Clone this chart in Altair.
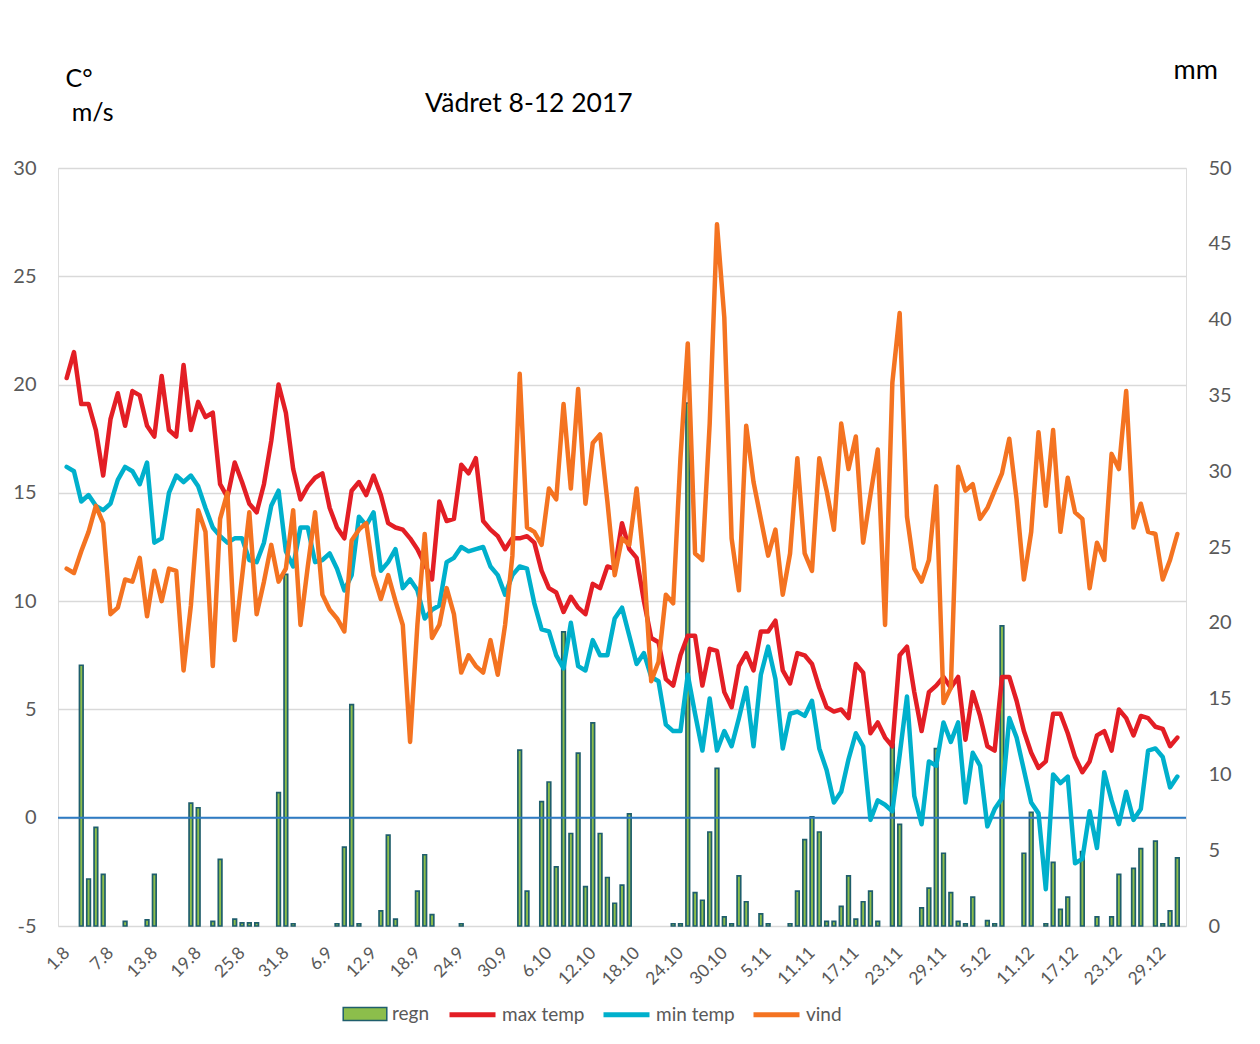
import altair as alt
import pandas as pd

# ---------------- data ----------------
dates = pd.date_range("2017-08-01", "2017-12-31", freq="D")
day_labels = [f"{d.day}.{d.month}" for d in dates]

tick_days = list(range(0, 153, 6))
tick_labels = ["1.8", "7.8", "13.8", "19.8", "25.8", "31.8", "6.9", "12.9", "18.9",
               "24.9", "30.9", "6.10", "12.10", "18.10", "24.10", "30.10", "5.11",
               "11.11", "17.11", "23.11", "29.11", "5.12", "11.12", "17.12", "23.12", "29.12"]

line_names = ["max temp", "min temp", "vind"]
line_colors = ["#E31E25", "#00B0CC", "#F47321"]
bar_name = "regn"
bar_fill = "#8CBE4B"
bar_edge = "#1F5E6C"

max_temp = [20.3, 21.5, 19.1, 19.1, 17.9, 15.8, 18.4, 19.6, 18.1, 19.7, 19.5, 18.1, 17.6, 20.4, 17.9, 17.6, 20.9, 17.9, 19.2,
            18.5, 18.7, 15.4, 14.8, 16.4, 15.5, 14.5, 14.1, 15.4, 17.4, 20.0, 18.7, 16.1, 14.7, 15.3, 15.7, 15.9, 14.3, 13.4,
            12.9, 15.1, 15.5, 14.9, 15.8, 14.9, 13.6, 13.4, 13.3, 12.9, 12.4, 11.7, 11.0, 14.6, 13.7, 13.8, 16.3, 15.9, 16.6,
            13.7, 13.3, 13.0, 12.4, 12.9, 12.9, 13.0, 12.7, 11.4, 10.6, 10.4, 9.5, 10.2, 9.7, 9.4, 10.8, 10.6, 11.6, 11.5,
            13.6, 12.4, 12.0, 10.0, 8.3, 8.1, 6.4, 6.1, 7.5, 8.4, 8.4, 6.1, 7.8, 7.7, 5.8, 5.1, 7.0, 7.6, 6.8,
            8.6, 8.6, 9.1, 6.8, 6.2, 7.6, 7.5, 7.1, 6.0, 5.1, 4.9, 5.0, 4.6, 7.1, 6.7, 3.9, 4.4, 3.7, 3.3,
            7.5, 7.9, 5.8, 4.0, 5.8, 6.1, 6.5, 6.0, 6.5, 3.6, 5.8, 4.7, 3.3, 3.1, 6.5, 6.5, 5.4, 4.0, 3.0,
            2.3, 2.6, 4.8, 4.8, 3.9, 2.8, 2.1, 2.6, 3.8, 4.0, 3.1, 5.0, 4.6, 3.8, 4.7, 4.6, 4.2, 4.1, 3.3, 3.7]

min_temp = [16.2, 16.0, 14.6, 14.9, 14.4, 14.2, 14.5, 15.6, 16.2, 16.0, 15.4, 16.4, 12.7, 12.9, 15.0, 15.8, 15.5, 15.8, 15.3,
            14.3, 13.4, 13.0, 12.7, 12.9, 12.9, 11.9, 11.8, 12.7, 14.4, 15.1, 12.3, 11.6, 13.4, 13.4, 11.8, 11.9, 12.2, 11.5,
            10.5, 11.2, 13.9, 13.5, 14.1, 11.4, 11.8, 12.4, 10.6, 11.0, 10.5, 9.2, 9.6, 9.8, 11.8, 12.0, 12.5, 12.3, 12.4,
            12.5, 11.6, 11.2, 10.3, 11.2, 11.6, 11.5, 9.9, 8.7, 8.6, 7.5, 6.9, 9.0, 7.0, 6.8, 8.2, 7.5, 7.5, 9.2,
            9.7, 8.4, 7.1, 7.6, 6.5, 6.3, 4.3, 4.0, 4.0, 6.6, 4.8, 3.1, 5.5, 3.1, 4.0, 3.3, 4.6, 6.0, 3.3,
            6.6, 7.9, 6.4, 3.2, 4.8, 4.9, 4.7, 5.4, 3.2, 2.2, 0.7, 1.2, 2.7, 3.9, 3.3, -0.1, 0.8, 0.6, 0.3,
            2.9, 5.6, 1.0, -0.3, 2.6, 2.4, 4.4, 3.5, 4.4, 0.7, 3.0, 2.4, -0.4, 0.4, 0.9, 4.6, 3.7, 2.2, 0.7,
            0.2, -3.3, 2.0, 1.6, 1.9, -2.1, -1.9, 0.3, -1.4, 2.1, 0.8, -0.3, 1.2, -0.1, 0.4, 3.1, 3.2, 2.8, 1.4, 1.9]

vind = [11.5, 11.3, 12.3, 13.2, 14.4, 13.6, 9.4, 9.7, 11.0, 10.9, 12.0, 9.3, 11.4, 10.0, 11.5, 11.4, 6.8, 9.8, 14.2,
        13.2, 7.0, 13.8, 15.0, 8.2, 11.1, 14.1, 9.4, 10.9, 12.6, 10.9, 11.5, 14.2, 8.9, 11.6, 14.1, 10.3, 9.6, 9.2,
        8.6, 12.8, 13.3, 13.6, 11.2, 10.1, 11.2, 10.0, 8.9, 3.5, 8.9, 13.1, 8.3, 8.9, 10.6, 9.4, 6.7, 7.5, 7.0,
        6.7, 8.2, 6.6, 8.9, 12.1, 20.5, 13.4, 13.2, 12.6, 15.2, 14.7, 19.1, 15.2, 19.8, 14.5, 17.3, 17.7, 14.6, 11.2,
        12.9, 12.6, 15.2, 11.7, 6.3, 7.2, 10.3, 9.9, 16.6, 21.9, 12.2, 11.9, 18.2, 27.4, 23.1, 12.9, 10.5, 18.1, 15.5,
        13.8, 12.1, 13.3, 10.3, 12.2, 16.6, 12.2, 11.4, 16.6, 15.1, 13.3, 18.2, 16.1, 17.6, 12.7, 14.9, 17.0, 8.9, 20.1,
        23.3, 13.9, 11.5, 10.9, 11.9, 15.3, 5.3, 6.0, 16.2, 15.1, 15.4, 13.8, 14.3, 15.1, 15.9, 17.5, 14.7, 11.0, 13.2,
        17.8, 14.4, 17.9, 13.2, 15.7, 14.1, 13.8, 10.6, 12.7, 11.9, 16.8, 16.1, 19.7, 13.4, 14.5, 13.2, 13.1, 11.0, 11.9, 13.1]

regn = [0, 0, 17.2, 3.1, 6.5, 3.4, 0, 0, 0.3, 0, 0, 0.4, 3.4, 0, 0, 0, 0, 8.1, 7.8,
        0, 0.3, 4.4, 0, 0.45, 0.2, 0.2, 0.2, 0, 0, 8.8, 23.2, 0.15, 0, 0, 0, 0, 0, 0.15,
        5.2, 14.6, 0.15, 0, 0, 1.0, 6.0, 0.45, 0, 0, 2.3, 4.7, 0.75, 0, 0, 0, 0.15, 0, 0,
        0, 0, 0, 0, 0, 11.6, 2.3, 0, 8.2, 9.5, 3.9, 19.4, 6.1, 11.4, 2.6, 13.4, 6.1, 3.2, 1.5,
        2.7, 7.4, 0, 0, 0, 0, 0, 0.15, 0.15, 34.5, 2.2, 1.7, 6.2, 10.4, 0.6, 0.15, 3.3, 1.6, 0,
        0.8, 0.15, 0, 0, 0.15, 2.3, 5.7, 7.2, 6.2, 0.3, 0.3, 1.3, 3.3, 0.45, 1.6, 2.3, 0.3, 0, 12.0,
        6.7, 0, 0, 1.2, 2.5, 11.7, 4.8, 2.2, 0.3, 0.15, 1.9, 0, 0.35, 0.15, 19.8, 0, 0, 4.8, 7.5,
        0, 0.15, 4.2, 1.1, 1.9, 0, 4.9, 0, 0.6, 0, 0.6, 3.4, 0, 3.8, 5.1, 0, 5.6, 0.15, 1.0, 4.5]

days = list(range(len(day_labels)))

rain_df = pd.DataFrame({"day": days, "date": day_labels, "mm": regn, "series": bar_name})
rain_df = rain_df[rain_df["mm"] > 0]
max_df = pd.DataFrame({"day": days, "value": max_temp, "series": "max temp"})
min_df = pd.DataFrame({"day": days, "value": min_temp, "series": "min temp"})
vind_df = pd.DataFrame({"day": days, "value": vind, "series": "vind"})
zero_df = pd.DataFrame({"value": [0]})

# ---------------- styling ----------------
FONT = "Lato"
GREY = "#595959"
label_expr = "[" + ",".join(f"'{t}'" for t in tick_labels) + "][round(datum.value/6)]"

x_enc = alt.X(
    "day:Q",
    scale=alt.Scale(domain=[-0.5, len(days) - 0.5], nice=False, zero=False),
    axis=alt.Axis(values=tick_days, labelExpr=label_expr, labelAngle=-45, labelAlign="right",
                  labelBaseline="middle", labelOverlap=False, grid=False,
                  ticks=False, tickSize=0, domain=False, labelFontSize=17.5, labelColor=GREY,
                  labelPadding=24, labelFont=FONT),
    title=None,
)

left_scale = alt.Scale(domain=[-5, 30], nice=False, zero=False)
left_axis = alt.Axis(orient="left", values=list(range(-5, 31, 5)), labelExpr="datum.value + ''",
                     grid=True, gridColor="#D9D9D9",
                     gridWidth=1.3, ticks=False, tickSize=0, domain=False, labelFontSize=20,
                     labelColor=GREY, labelPadding=22, labelFont=FONT,
                     titleAngle=0, titleX=7, titleY=-82, titleAlign="left", titleBaseline="alphabetic",
                     titleFontSize=25, titleFontWeight="normal", titleColor="#000000",
                     titleLineHeight=34, titleFont=FONT)
left_title = ["C°", "\u200b\u2005m/s"]

bar_legend = alt.Legend(
    orient="none", legendX=284, legendY=823, direction="horizontal", title=None,
    labelFontSize=19, labelColor=GREY, labelFont=FONT, symbolSize=1900,
    symbolType="M-1,-0.3H1V0.3H-1Z", symbolStrokeColor=bar_edge, symbolStrokeWidth=1.5,
    labelOffset=4, padding=0,
)
line_legend = alt.Legend(
    orient="none", legendX=389, legendY=821, direction="horizontal", title=None,
    labelFontSize=19, labelColor=GREY, labelFont=FONT, symbolSize=2116,
    symbolType="stroke", symbolStrokeWidth=5, columnPadding=8, labelOffset=4, padding=0,
)

bars = alt.Chart(rain_df).mark_bar(size=3.6, stroke=bar_edge, strokeWidth=1.7).encode(
    x=x_enc,
    y=alt.Y("mm:Q", scale=alt.Scale(domain=[0, 50], nice=False, zero=True),
            axis=alt.Axis(orient="right", values=list(range(0, 51, 5)), grid=False, ticks=False,
                          tickSize=0, domain=False, labelFontSize=20, labelColor=GREY,
                          labelPadding=22, labelAlign="left", labelFont=FONT,
                          titleAngle=0, titleX=-13, titleY=-90, titleAlign="left",
                          titleBaseline="alphabetic", titleFontSize=27, titleFontWeight="normal",
                          titleColor="#000000", titleFont=FONT),
            title="mm"),
    fill=alt.Fill("series:N", scale=alt.Scale(domain=[bar_name], range=[bar_fill]), legend=bar_legend),
)

zero_rule = alt.Chart(zero_df).mark_rule(color="#2E7BC4", strokeWidth=2).encode(
    y=alt.Y("value:Q", scale=left_scale, axis=left_axis, title=left_title)
)

line_scale = alt.Scale(domain=line_names, range=line_colors)


def temp_line(df):
    return alt.Chart(df).mark_line(strokeWidth=4.5, strokeJoin="round", strokeCap="round").encode(
        x=x_enc,
        y=alt.Y("value:Q", scale=left_scale, axis=left_axis, title=left_title),
        stroke=alt.Stroke("series:N", scale=line_scale, legend=line_legend),
    )


temps = alt.layer(zero_rule, temp_line(max_df), temp_line(min_df), temp_line(vind_df))

chart = alt.layer(bars, temps).resolve_scale(y="independent").properties(
    width=1128, height=758,
    autosize=alt.AutoSizeParams(type="none"),
    padding={"left": 50, "top": 160, "right": 66, "bottom": 110},
    title=alt.TitleParams("Vädret 8-12 2017", anchor="start", frame="group", dx=367, dy=82,
                          offset=0, fontSize=26.5, font=FONT, fontWeight="normal",
                          color="#000000", baseline="alphabetic"),
).configure_view(stroke=None).configure(background="white")

chart.save("out.html", embed_options={"renderer": "svg", "actions": False})
